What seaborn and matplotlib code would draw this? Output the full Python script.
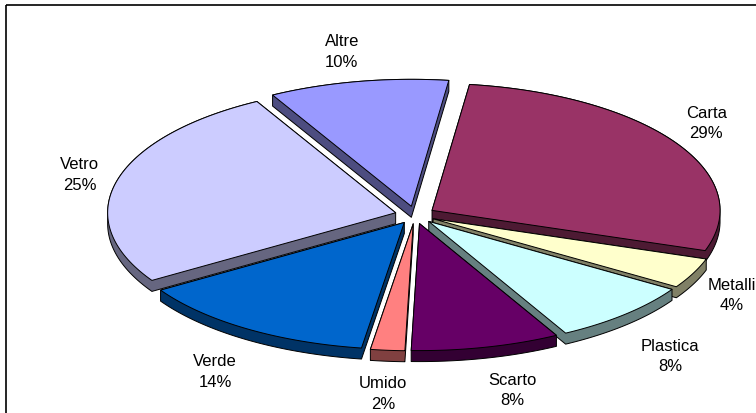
import numpy as np
import matplotlib
matplotlib.use("Agg")
import matplotlib.pyplot as plt
import seaborn as sns
from matplotlib.patches import Polygon, Rectangle
from matplotlib import colors as mcolors

# ---------------------- data ----------------------
categories = ['Carta', 'Metalli', 'Plastica', 'Scarto', 'Umido', 'Verde', 'Vetro', 'Altre']
shares = [29, 4, 8, 8, 2, 14, 25, 10]
slice_colors = ['#993366', '#FFFFCC', '#CCFFFF', '#660066', '#FF8080', '#0066CC', '#CCCCFF', '#9999FF']

sns.set_theme(style='white')
plt.rcParams['font.family'] = ['Liberation Sans', 'DejaVu Sans']

# ---------------------- pie layout (pixel units) ----------------------
cx, cy = 415, 216
rx, ry = 288, 127
depth = 11
explode = 20
start_angle = 82.5
warp = 5          # degrees, mimics the 3-D view skewing the pie
warp_front = 2.8  # pulls the very front back a little
label_k = 1.24
# small hand nudges so labels sit where Excel put them
label_nudge = {'Carta': (-13, -10), 'Metalli': (-6, 1), 'Plastica': (10, 15), 'Scarto': (17, 10),
               'Umido': (0, 10), 'Verde': (-9, 12), 'Vetro': (10, -1), 'Altre': (-8, -9)}


def view_angle(deg):
    rad = np.deg2rad(deg)
    s = np.sin(rad)
    w = warp * (1 - s) / 2 - warp_front * np.clip(-s, 0, None) ** 8
    return rad + np.deg2rad(w)


def hull(points):
    pts = sorted(set(map(tuple, np.round(points, 4))))
    def cross(o, a, b):
        return (a[0] - o[0]) * (b[1] - o[1]) - (a[1] - o[1]) * (b[0] - o[0])
    lower, upper = [], []
    for p in pts:
        while len(lower) >= 2 and cross(lower[-2], lower[-1], p) <= 0:
            lower.pop()
        lower.append(p)
    for p in reversed(pts):
        while len(upper) >= 2 and cross(upper[-2], upper[-1], p) <= 0:
            upper.pop()
        upper.append(p)
    return np.array(lower[:-1] + upper[:-1])


fig = plt.figure(figsize=(7.56, 4.14), dpi=100)
ax = fig.add_axes([0, 0, 1, 1])
ax.set_xlim(0, 756)
ax.set_ylim(414, 0)
ax.axis('off')

total = sum(shares)
fracs = np.array(shares) / total
edges = start_angle - 360 * np.concatenate([[0], np.cumsum(fracs)])

slices = []
for i, name in enumerate(categories):
    a0, a1 = edges[i], edges[i + 1]
    mid = view_angle((a0 + a1) / 2)
    ox = explode * np.cos(mid)
    oy = -explode * (ry / rx) * np.sin(mid)
    t = view_angle(np.linspace(a0, a1, 80))
    xs = cx + ox + rx * np.cos(t)
    ys = cy + oy - ry * np.sin(t)
    top = np.vstack([[cx + ox, cy + oy], np.column_stack([xs, ys])])
    slices.append((np.sin(mid), i, name, mid, top))

# back to front
for s, i, name, mid, top in sorted(slices, key=lambda z: -z[0]):
    base = mcolors.to_rgb(slice_colors[i])
    side = tuple(c * 0.5 for c in base)
    solid = hull(np.vstack([top, top + [0, depth]]))
    ax.add_patch(Polygon(solid, closed=True, fc=side, ec='black', lw=0.7, joinstyle='round'))
    ax.add_patch(Polygon(top, closed=True, fc=base, ec='black', lw=0.7, joinstyle='round'))

for s, i, name, mid, top in slices:
    lx = cx + label_k * rx * np.cos(mid)
    ly = cy - label_k * ry * np.sin(mid)
    if np.sin(mid) < 0:
        ly += depth
    dx, dy = label_nudge[name]
    pct = int(round(100 * fracs[i]))
    ax.text(lx + dx, ly + dy, f'{name}\n{pct}%', ha='center', va='center',
            fontsize=12, color='black', linespacing=1.45)

# chart area border (cropped on right and bottom)
ax.add_patch(Rectangle((6, 6), 900, 600, fill=False, ec='black', lw=1.2))

fig.savefig('out.png', dpi=100)
